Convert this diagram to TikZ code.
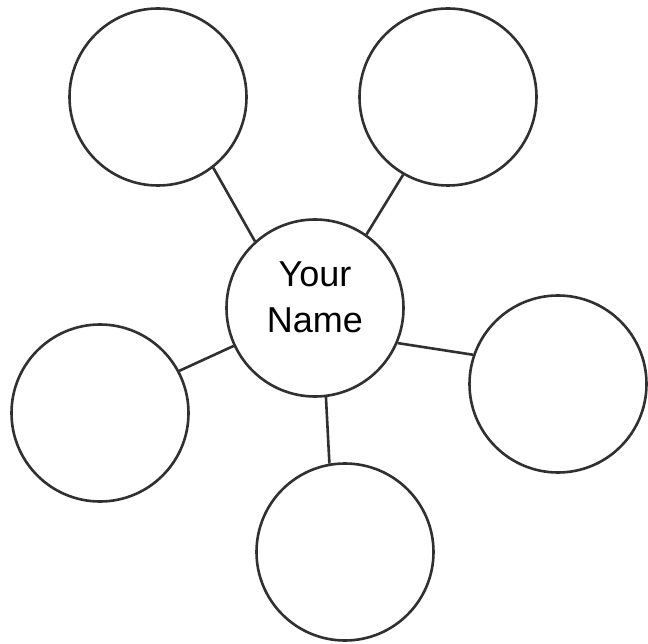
\documentclass[tikz,border=0pt]{standalone}
\usepackage{fontspec}
\setmainfont{Liberation Sans}
\usepackage{xcolor}
\usetikzlibrary{positioning}
\definecolor{ringgray}{HTML}{303030}
\tikzset{
  bubble/.style={draw=ringgray, circle, line width=2.6pt, minimum size=177pt, inner sep=0pt, fill=white},
  hub/.style={bubble, align=center, font=\fontsize{36}{46}\selectfont, text depth=22pt},
  spoke/.style={draw=ringgray, line width=2.6pt}
}

\begin{document}
\begin{tikzpicture}[x=1pt, y=-1pt]
  \useasboundingbox[fill=white] (0,0) rectangle (648,644);
  \node[hub] (name) at (315,308) {Your\\Name};
  \node[bubble] (topleft) at (158,97) {};
  \node[bubble] (topright) at (448,97) {};
  \node[bubble] (right) at (558,384) {};
  \node[bubble] (bottom) at (345,552) {};
  \node[bubble] (left) at (100,413) {};

  \draw[spoke] (name.132) -- (topleft.-52);
  \draw[spoke] (name.55) -- (topright.240);
  \draw[spoke] (name.-23) -- (right.161);
  \draw[spoke] (name.-83) -- (bottom.100);
  \draw[spoke] (name.205) -- (left.28);
\end{tikzpicture}
\end{document}
